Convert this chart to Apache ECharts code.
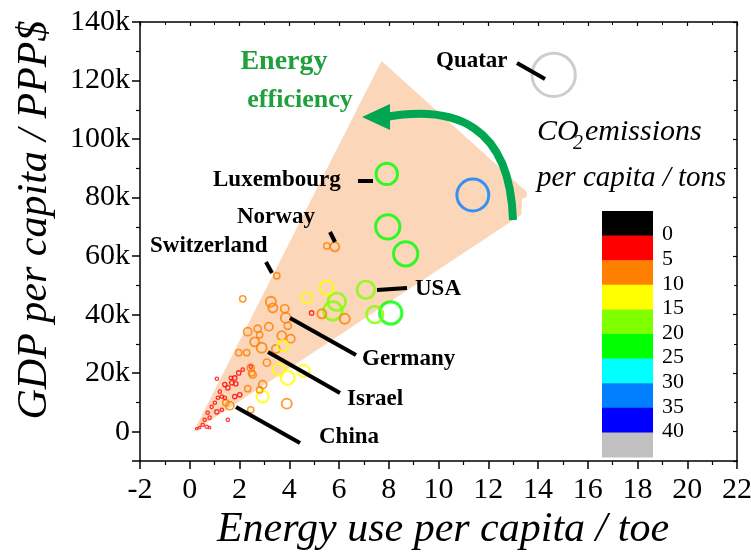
<!DOCTYPE html>
<html><head><meta charset="utf-8">
<script src="https://cdn.jsdelivr.net/npm/echarts@6/dist/echarts.min.js"></script>
<style>html,body{margin:0;padding:0;background:#fff}#c{width:751px;height:557px}</style>
</head><body><div id="c"></div>
<script>
// Energy use per capita (toe)
const energyUse = [14.63,11.38,7.92,7.96,8.68,7.08,8.08,7.44,5.91,5.75,5.51,4.70,4.90,5.31,6.23,5.83,5.51,3.50,2.13,3.26,3.34,3.82,3.86,3.94,2.33,2.73,3.18,2.81,3.70,4.06,2.61,2.89,3.46,3.74,1.97,2.29,3.10,3.58,3.94,4.58,2.93,1.61,1.45,2.45,3.90,2.45,2.49,2.53,2.93,2.81,2.33,
  1.97,1.81,1.69,1.41,1.53,1.09,1.21,1.29,1.13,1.41,1.81,2.01,1.01,0.88,1.09,0.72,0.80,0.60,0.52,0.68,0.40,1.53,0.80,2.13,2.45,1.85,1.29,1.65,0.28];
// GDP per capita (PPP$)
const gdp = [121900,80900,88100,70000,60800,48500,40600,40000,44400,41300,49200,45800,40600,40300,38600,63200,63500,53300,45400,44400,42300,42000,38900,36200,34200,35200,35900,33100,32800,31800,30700,28700,28300,29400,27000,27000,23600,21200,18400,20800,12000,8900,9900,7500,9600,21900,20100,19500,16100,14300,14700,
  20100,18400,16700,16100,15000,18100,13700,12000,11600,11600,12000,12600,9900,8500,6800,6500,4800,4100,2400,1700,1400,4100,1400,21200,22200,16400,7500,18400,1000];
// CO2 emissions per capita (tons)
const co2 = [44,32,21,24,24,17,22,16,17,18,13,10,3,8,9,8,5,5,5,9,8,7,9,6,7,6,7,5,8,7,8,9,7,10,5,5,6,11,13,11,11,7,5,5,9,6,5,6,7,5,5,
  3,3,3,3,3,2,2,2,2,2,3,3,2,2,3,2,2,2,2,2,1,2,1,2,2,3,2,2,1];

const colorLimits = [0,5,10,15,20,25,30,35,40];
const colorBands = ['#000000','#ff0000','#ff8000','#ffff00','#80ff00','#00ff00','#00ffff','#0080ff','#0000ff','#c0c0c0'];
const colorTickLabels = ['0','5','10','15','20','25','30','35','40'];

// Shaded "efficiency" wedge (data coordinates)
const wedgeX = [0.15, 7.71, 13.55, 13.55, 13.36, 13.33];
const wedgeY = [0, 126700, 81900, 80200, 79600, 74100];

const font = 'Liberation Serif';

function bandColor(v){
  let i = 0;
  while (i < colorLimits.length && v >= colorLimits[i]) i++;
  return colorBands[i];
}

const points = energyUse.map((x,i)=>{
  const c = co2[i];
  const size = c*0.95 + 1.5;
  const bw = Math.min(3, 0.9 + size*0.1);
  return {value:[x, gdp[i], c], symbolSize:size,
    itemStyle:{color:'rgba(0,0,0,0)', borderColor:bandColor(c), borderWidth:bw}};
});

const chart = echarts.init(document.getElementById('c'), null, {renderer:'canvas'});

const axisLine = {show:true, onZero:false, lineStyle:{color:'#000', width:1.5}};
const labelsText = [
  ['Quatar',436,62],['Luxembourg',213,181],['Norway',237,218],['Switzerland',150,247],
  ['USA',415,290],['Germany',362,360],['Israel',347,400],['China',319,438]
];
const leaders = [
  [517,63,545,79],[358,181,373,181],[330,232,335,242],[266,262,272,273],
  [377,290,407,288],[290,318,356,355],[268,352,340,393],[236,407,300,443]
];

const graphics = [];
labelsText.forEach(t=>graphics.push({type:'text', left:t[1], top:t[2]-12, z:10,
  style:{text:t[0], font:'bold 23px "'+font+'"', fill:'#000'}}));
leaders.forEach(l=>graphics.push({type:'line', z:10,
  shape:{x1:l[0],y1:l[1],x2:l[2],y2:l[3]}, style:{stroke:'#000', lineWidth:4}}));
// Energy efficiency arrow
graphics.push({type:'bezierCurve', z:8,
  shape:{x1:513,y1:220,cpx1:510,cpy1:125,cpx2:455,cpy2:105,x2:386,y2:117},
  style:{stroke:'#00a651', lineWidth:8, fill:null}});
graphics.push({type:'polygon', z:8,
  shape:{points:[[362,117],[390,104],[390,130]]}, style:{fill:'#00a651'}});
graphics.push({type:'text', x:284, y:62, z:10,
  style:{text:'Energy', font:'bold 28px "'+font+'"', fill:'#1ea03c', align:'center', verticalAlign:'middle'}});
graphics.push({type:'text', x:300, y:100, z:10,
  style:{text:'efficiency', font:'bold 26px "'+font+'"', fill:'#1ea03c', align:'center', verticalAlign:'middle'}});
// Axis titles
graphics.push({type:'text', x:35, y:220, rotation:Math.PI/2, z:10,
  style:{text:'GDP per capita / PPP$', font:'italic 42px "'+font+'"', fill:'#000', align:'center', verticalAlign:'middle'}});
graphics.push({type:'text', x:443, y:530, z:10,
  style:{text:'Energy use per capita / toe', font:'italic 42px "'+font+'"', fill:'#000', align:'center', verticalAlign:'middle'}});
// CO2 legend title
graphics.push({type:'text', left:537, top:117, z:10,
  style:{text:'CO', font:'italic 30px "'+font+'"', fill:'#000'}});
graphics.push({type:'text', left:573, top:134, z:10,
  style:{text:'2', font:'italic 20px "'+font+'"', fill:'#000'}});
graphics.push({type:'text', left:585, top:117, z:10,
  style:{text:'emissions', font:'italic 30px "'+font+'"', fill:'#000'}});
graphics.push({type:'text', left:537, top:164, z:10,
  style:{text:'per capita / tons', font:'italic 29px "'+font+'"', fill:'#000'}});
// Colour bar
const cbTop = 211, cbH = 24.6, cbX = 602, cbW = 51;
colorBands.forEach((c,i)=>graphics.push({type:'rect', z:10,
  shape:{x:cbX, y:cbTop+i*cbH, width:cbW, height:cbH+0.5}, style:{fill:c}}));
colorTickLabels.forEach((t,i)=>graphics.push({type:'text', z:10, left:662, top:cbTop+(i+1)*cbH-12,
  style:{text:t, font:'22px "'+font+'"', fill:'#000'}}));

chart.setOption({
  animation:false,
  backgroundColor:'#fff',
  grid:{left:140, right:14, top:22, bottom:96, containLabel:false, outerBoundsMode:'none'},
  xAxis:[{
    type:'value', min:-2, max:22, interval:2, position:'bottom',
    axisLine, axisTick:{show:true, length:8, lineStyle:{color:'#000', width:1.5}},
    minorTick:{show:true, splitNumber:2, length:4, lineStyle:{color:'#000', width:1.2}},
    splitLine:{show:false},
    axisLabel:{fontFamily:font, fontSize:30, color:'#000', margin:14}
  },{
    type:'value', min:-2, max:22, interval:2, position:'top',
    axisLine, axisTick:{show:true, inside:true, length:4, lineStyle:{color:'#000', width:1.2}},
    minorTick:{show:true, splitNumber:2, length:3, lineStyle:{color:'#000', width:1}},
    axisLabel:{show:false}, splitLine:{show:false}
  }],
  yAxis:[{
    type:'value', min:-10000, max:140000, splitNumber:7, position:'left',
    axisLine, axisTick:{show:true, length:8, lineStyle:{color:'#000', width:1.5}},
    minorTick:{show:true, splitNumber:2, length:4, lineStyle:{color:'#000', width:1.2}},
    splitLine:{show:false},
    axisLabel:{fontFamily:font, fontSize:30, color:'#000', margin:10,
      formatter:v=> v===0 ? '0' : (v%20000===0 && v>0 ? (v/1000)+'k' : '')}
  },{
    type:'value', min:-10000, max:140000, splitNumber:7, position:'right',
    axisLine, axisTick:{show:true, inside:true, length:4, lineStyle:{color:'#000', width:1.2}},
    minorTick:{show:true, splitNumber:2, length:3, lineStyle:{color:'#000', width:1}},
    axisLabel:{show:false}, splitLine:{show:false}
  }],
  series:[{
    type:'custom', silent:true, z:1, clip:true,
    xAxisIndex:0, yAxisIndex:0,
    data:[[0,0]],
    renderItem:(params, api)=>{
      const pts = wedgeX.map((x,i)=>api.coord([x, wedgeY[i]]));
      return {type:'polygon', shape:{points:pts}, style:{fill:'#fbd6b8'}};
    }
  },{
    type:'scatter', z:3, xAxisIndex:0, yAxisIndex:0,
    symbol:'circle', data:points
  }],
  graphic:graphics
});
</script></body></html>
